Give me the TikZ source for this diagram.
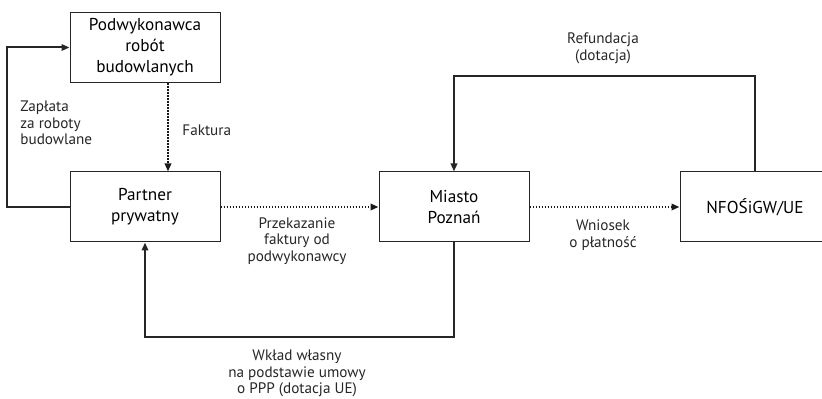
\documentclass[tikz,border=0pt]{standalone}
\usepackage{fontspec}
\setmainfont{PT Sans}
\usetikzlibrary{arrows.meta,positioning}
\tikzset{
  box/.style={draw=black!85,line width=0.5pt,align=center,
    minimum width=75pt,minimum height=35pt,inner sep=2pt,
    font=\fontsize{8.6pt}{10.5pt}\selectfont},
  arrow/.style={-{Triangle[length=4pt,width=3.2pt]},draw=black!85,line width=1pt},
  dotarrow/.style={-{Triangle[length=4pt,width=3.2pt]},draw=black!90,line width=1pt,
    dash pattern=on 0.9pt off 0.6pt},
  labelstyle/.style={font=\fontsize{7.6pt}{8.3pt}\selectfont,inner sep=0pt,text=black!85}
}
\begin{document}
\begin{tikzpicture}[x=0.5pt,y=-0.5pt]
  \useasboundingbox (0,0) rectangle (822,399);
  \node[box] (pod) at (145,47.5) {Podwykonawca\\robót\\budowlanych};
  \node[box] (partner) at (145,207) {Partner\\prywatny};
  \node[box] (miasto) at (454,207) {Miasto\\Poznań};
  \node[box] (nfos) at (755,207) {NFOŚiGW/UE};
  \coordinate (lft) at (7,0);
  \coordinate (top) at (0,76);
  \coordinate (bot) at (0,337);
  % connectors
  \draw[arrow] (partner.west) -- (partner.west -| lft) |- (pod.west);
  \draw[dotarrow] ([xshift=11.5pt]pod.south) -- ([xshift=11.5pt]partner.north);
  \draw[dotarrow] (partner) -- (miasto);
  \draw[dotarrow] (miasto) -- (nfos);
  \draw[arrow] (nfos.north) -- (nfos.north |- top) -| (miasto.north);
  \draw[arrow] (miasto.south) -- (miasto.south |- bot) -| (partner.south);
  % labels
  \node[labelstyle,align=left,anchor=west] (zaplata) at (20,123) {Zapłata\\za roboty\\budowlane};
  \node[labelstyle,anchor=west] (faktura) at (182,130) {Faktura};
  \node[labelstyle,align=center] (przek) at (297,241) {Przekazanie\\faktury od\\podwykonawcy};
  \node[labelstyle,align=center] (wniosek) at (603,235) {Wniosek\\o płatność};
  \node[labelstyle,align=center] (refund) at (603,48.5) {Refundacja\\(dotacja)};
  \node[labelstyle,align=center] (wklad) at (297,373.5) {Wkład własny\\na podstawie umowy\\o PPP (dotacja UE)};
\end{tikzpicture}
\end{document}
